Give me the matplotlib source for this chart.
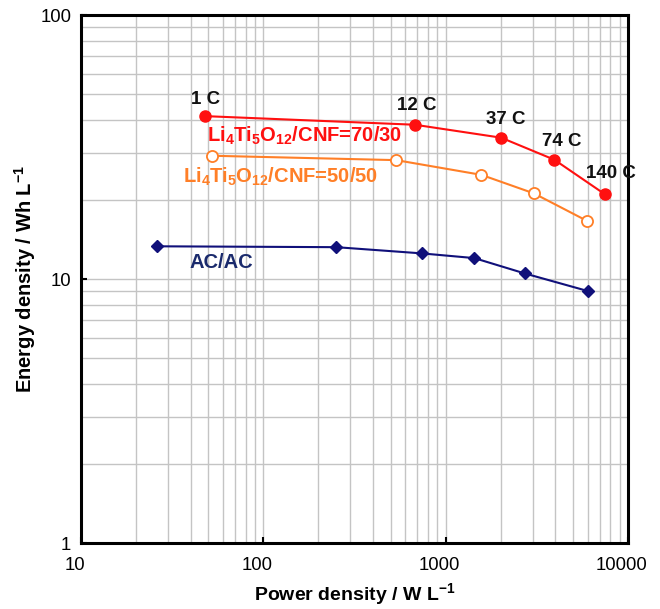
import matplotlib
matplotlib.use("Agg")
import matplotlib.pyplot as plt
import matplotlib.transforms as mtransforms
from matplotlib.ticker import FixedLocator, FixedFormatter, LogLocator, NullFormatter

plt.rcParams['font.family'] = ['Liberation Sans', 'DejaVu Sans']
plt.rcParams['mathtext.fontset'] = 'custom'
plt.rcParams['mathtext.rm'] = 'Liberation Sans'
plt.rcParams['mathtext.bf'] = 'Liberation Sans:bold'
plt.rcParams['mathtext.default'] = 'bf'

# Ragone data (power density W/L, energy density Wh/L)
lto_70_power = [47.7, 678, 2014, 3945, 7500]
lto_70_energy = [41.4, 38.4, 34.3, 28.3, 20.9]
c_rates = ['1 C', '12 C', '37 C', '74 C', '140 C']

lto_50_power = [52.2, 536, 1571, 3048, 5960]
lto_50_energy = [29.3, 28.2, 24.8, 21.1, 16.6]

ac_power = [26.2, 251, 743, 1436, 2710, 6030]
ac_energy = [13.3, 13.2, 12.5, 12.0, 10.5, 9.0]

x_ticks = [10, 100, 1000, 10000]
y_ticks = [1, 10, 100]

red = '#ff1010'
orange = '#ff7f27'
navy = '#10107a'

fig = plt.figure(figsize=(6.6, 6.09), dpi=100)
ax = fig.add_axes([81 / 660, 1 - 543 / 609, 547 / 660, 528 / 609])

ax.set_xscale('log')
ax.set_yscale('log')
ax.set_xlim(10, 10000)
ax.set_ylim(1, 100)

# grid, major + minor
ax.xaxis.set_minor_locator(LogLocator(base=10, subs=range(2, 10)))
ax.yaxis.set_minor_locator(LogLocator(base=10, subs=range(2, 10)))
ax.grid(True, which='both', color='#c4c4c4', linewidth=1.0)
ax.set_axisbelow(True)

ax.plot(lto_70_power, lto_70_energy, '-o', color=red, lw=1.5, ms=8,
        mfc=red, mec=red, zorder=3)
ax.plot(lto_50_power, lto_50_energy, '-o', color=orange, lw=1.5, ms=8,
        mfc='white', mec=orange, mew=1.3, zorder=3)
ax.plot(ac_power, ac_energy, '-D', color=navy, lw=1.5, ms=6.5,
        mfc=navy, mec=navy, zorder=3)

# C-rate labels
label_pos = [(48.5, 47.9), (697, 45.5), (2133, 40.2), (4355, 33.3), (8020, 25.2)]
for txt, (lx, ly) in zip(c_rates, label_pos):
    ax.text(lx, ly, txt, fontsize=13.5, fontweight='bold', ha='center',
            va='center', color='#111111', zorder=4, clip_on=False)

ax.text(49.2, 34.8, r'Li$_4$Ti$_5$O$_{12}$/CNF=70/30', color=red,
        fontsize=14.5, fontweight='bold', ha='left', va='center', zorder=4)
ax.text(36.4, 24.3, r'Li$_4$Ti$_5$O$_{12}$/CNF=50/50', color=orange,
        fontsize=14.5, fontweight='bold', ha='left', va='center', zorder=4)
ax.text(39.3, 11.55, 'AC/AC', color='#1a2a6c', fontsize=14.5,
        fontweight='bold', ha='left', va='center', zorder=4)

ax.xaxis.set_major_locator(FixedLocator(x_ticks))
ax.xaxis.set_major_formatter(FixedFormatter([str(v) for v in x_ticks]))
ax.xaxis.set_minor_formatter(NullFormatter())
ax.yaxis.set_major_locator(FixedLocator(y_ticks))
ax.yaxis.set_major_formatter(FixedFormatter([str(v) for v in y_ticks]))
ax.yaxis.set_minor_formatter(NullFormatter())

ax.tick_params(which='major', direction='in', length=4, width=1.5,
               labelsize=13.3, colors='black')
ax.tick_params(axis='x', pad=10)
ax.tick_params(axis='y', pad=7)
ax.tick_params(which='minor', length=0)

# Excel-style: x tick labels sit a little left of their ticks
shift = mtransforms.ScaledTranslation(-6 / 100, 0, fig.dpi_scale_trans)
for lab in ax.get_xticklabels():
    lab.set_transform(lab.get_transform() + shift)

for s in ax.spines.values():
    s.set_linewidth(2.2)
    s.set_color('black')

ax.set_xlabel(r'Power density / W L$^{-1}$', fontsize=14, fontweight='bold')
ax.set_ylabel(r'Energy density / Wh L$^{-1}$', fontsize=14.5, fontweight='bold')
ax.xaxis.set_label_coords(0.5, (543 - 594) / 528)
ax.xaxis.label.set_va('center')
ax.yaxis.set_label_coords((25 - 81) / 547, 0.5)
ax.yaxis.label.set_va('center')

fig.savefig('out.png', dpi=100)
